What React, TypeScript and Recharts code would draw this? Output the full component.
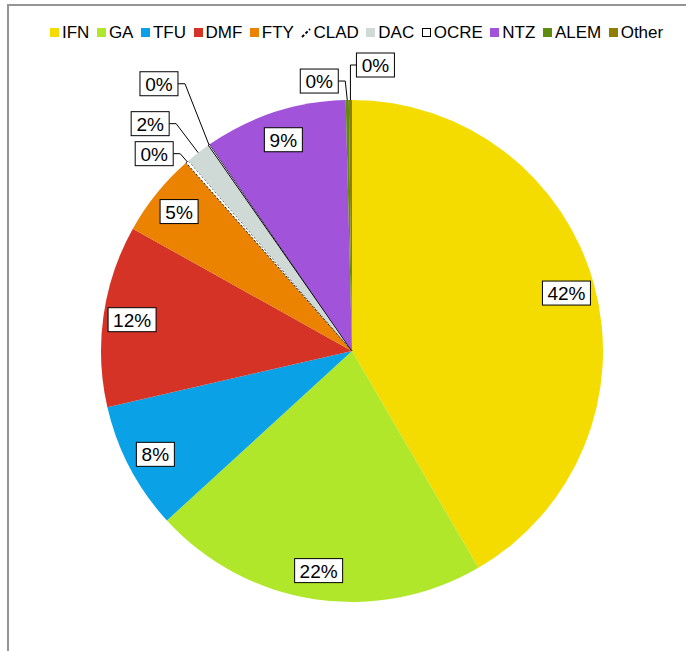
import React from "react";
import { PieChart, Pie, Cell, Legend } from "recharts";

// share of patients per drug, in percent (clockwise from 12 o'clock)
const categories = ["IFN", "GA", "TFU", "DMF", "FTY", "CLAD", "DAC", "OCRE", "NTZ", "ALEM", "Other"];
const shares = [41.6, 21.6, 8.2, 11.7, 5.4, 0.2, 1.6, 0.1, 9.2, 0.2, 0.2];

const colors: Record<string, string> = {
  IFN: "#f4dc00",
  GA: "#b1e72a",
  TFU: "#0aa1e6",
  DMF: "#d53325",
  FTY: "#eb8200",
  CLAD: "#ffffff",
  DAC: "#cfdad6",
  OCRE: "#ffffff",
  NTZ: "#a153da",
  ALEM: "#5f8b10",
  Other: "#8f7e00",
};

// where the boxed labels of the thin slices sit, relative to the slice edge
const callouts: Record<string, { dx: number; dy: number }> = {
  CLAD: { dx: -33, dy: -8 },
  DAC: { dx: -48, dy: -29 },
  OCRE: { dx: -50, dy: -61 },
  ALEM: { dx: -28, dy: -19 },
  Other: { dx: 25, dy: -35 },
};

const data = categories.map((name, i) => ({ name, value: shares[i] }));

const RAD = Math.PI / 180;
const FONT = "'Liberation Sans', Arial, sans-serif";

function boxWidth(text: string) {
  return 12 + (text.length - 1) * 10 + 16;
}

function renderLabel(props: any) {
  const { cx, cy, midAngle, outerRadius, index } = props;
  const name = categories[index];
  const text = `${Math.round(shares[index])}%`;
  const w = boxWidth(text);
  const h = 24;
  const cos = Math.cos(-midAngle * RAD);
  const sin = Math.sin(-midAngle * RAD);
  const c = callouts[name];

  if (!c) {
    const r = outerRadius * 0.885;
    const x = cx + r * cos;
    const y = cy + r * sin;
    return (
      <g key={`lbl-${index}`}>
        <rect x={x - w / 2} y={y - h / 2} width={w} height={h} fill="#fff" stroke="#000" strokeWidth={1} />
        <text x={x} y={y + 7} textAnchor="middle" fontSize={19} fontFamily={FONT} fill="#000">
          {text}
        </text>
      </g>
    );
  }

  const ex = cx + outerRadius * cos;
  const ey = cy + outerRadius * sin;
  const bx = ex + c.dx;
  const by = ey + c.dy;
  const side = c.dx < 0 ? bx + w / 2 : bx - w / 2;
  const elbow = c.dx < 0 ? side + 7 : side - 6;
  return (
    <g key={`lbl-${index}`}>
      <path d={`M${ex},${ey}L${elbow},${by}L${side},${by}`} fill="none" stroke="#000" strokeWidth={1} />
      <rect x={bx - w / 2} y={by - h / 2} width={w} height={h} fill="#fff" stroke="#000" strokeWidth={1} />
      <text x={bx} y={by + 7} textAnchor="middle" fontSize={19} fontFamily={FONT} fill="#000">
        {text}
      </text>
    </g>
  );
}

function LegendIcon({ name }: { name: string }) {
  if (name === "CLAD") {
    return (
      <svg width={10} height={10} style={{ marginRight: 2 }}>
        <line x1={1} y1={9} x2={9} y2={1} stroke="#000" strokeWidth={2} strokeDasharray="3 2" />
      </svg>
    );
  }
  if (name === "OCRE") {
    return (
      <svg width={10} height={10} style={{ marginRight: 2 }}>
        <rect x={0.5} y={0.5} width={8} height={8} fill="#fff" stroke="#000" strokeWidth={1} />
      </svg>
    );
  }
  return (
    <svg width={10} height={10} style={{ marginRight: 2 }}>
      <rect x={0} y={0} width={9} height={9} fill={colors[name]} />
    </svg>
  );
}

function renderLegend() {
  return (
    <div style={{ display: "flex", alignItems: "center", fontFamily: FONT, fontSize: 17, color: "#000" }}>
      {categories.map((name) => (
        <div key={name} style={{ display: "flex", alignItems: "center", marginRight: 7.5 }}>
          <LegendIcon name={name} />
          <span>{name}</span>
        </div>
      ))}
    </div>
  );
}

export default function App() {
  return (
    <div style={{ position: "relative", width: 686, height: 651, background: "#fff", overflow: "hidden" }}>
      <style>{"body{margin:0}"}</style>
      <div
        style={{
          position: "absolute",
          left: 7,
          top: 4,
          width: 700,
          height: 700,
          borderLeft: "2px solid #959595",
          borderTop: "2px solid #959595",
        }}
      />
      <PieChart
        width={686}
        height={651}
        margin={{ top: 0, right: 0, bottom: 0, left: 0 }}
        style={{ position: "absolute", left: 0, top: 0 }}
      >
        <Legend
          content={renderLegend}
          verticalAlign="top"
          wrapperStyle={{ top: 23, left: 50, width: "auto" }}
        />
        <Pie
          data={data}
          dataKey="value"
          nameKey="name"
          cx={352}
          cy={331}
          outerRadius={251}
          startAngle={90}
          endAngle={-270}
          stroke="none"
          labelLine={false}
          label={renderLabel}
          isAnimationActive={false}
        >
          {data.map((d) => (
            <Cell
              key={d.name}
              fill={colors[d.name]}
              stroke={d.name === "CLAD" || d.name === "OCRE" ? "#000" : "none"}
              strokeWidth={1}
              strokeDasharray={d.name === "CLAD" ? "2 2" : undefined}
            />
          ))}
        </Pie>
      </PieChart>
    </div>
  );
}
